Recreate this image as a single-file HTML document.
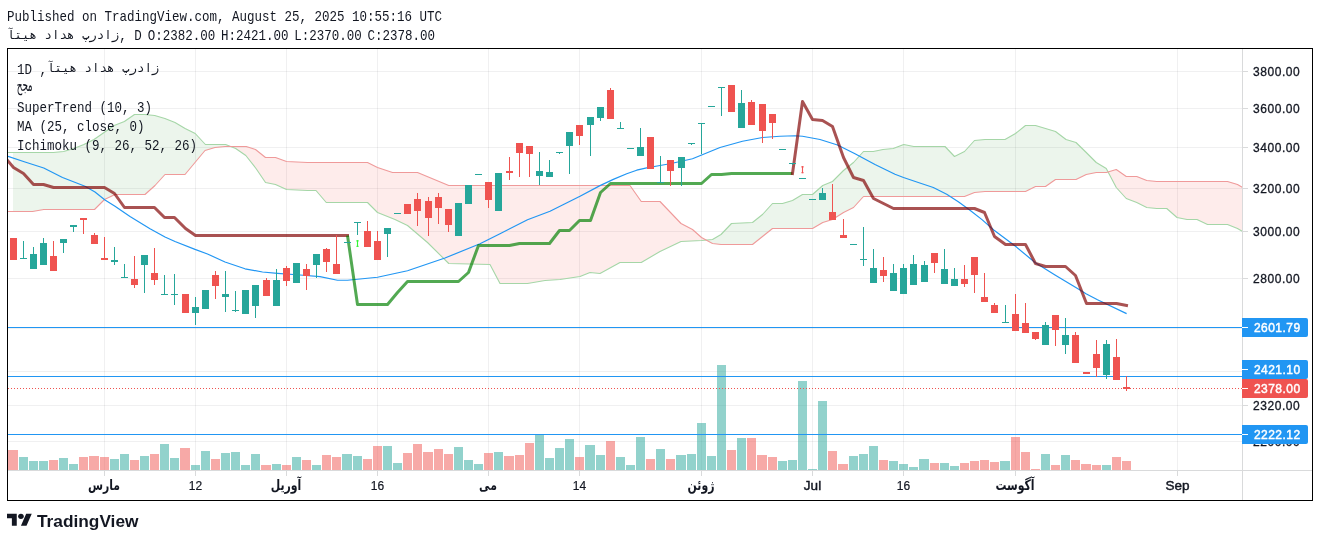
<!DOCTYPE html>
<html lang="fa"><head><meta charset="utf-8"><title>TradingView Chart</title>
<style>
html,body{margin:0;padding:0;background:#fff;}
body{width:1320px;height:541px;position:relative;overflow:hidden;color:#131722;
 font-family:"Liberation Sans","DejaVu Sans","Noto Sans CJK SC",sans-serif;}
.chart{position:absolute;left:0;top:0;}
.mono{position:absolute;white-space:pre;font-family:"Liberation Mono","DejaVu Sans Mono",monospace;
 font-size:12.5px;line-height:15px;color:#131722;}
.mono .l{display:inline-block;transform:scaleY(1.2);transform-origin:0 11.5px;}
.mono .r{display:inline-block;font-family:"DejaVu Sans Mono","Liberation Mono",monospace;font-size:12.45px;position:relative;top:-1px;}
.ax{position:absolute;font-size:12px;line-height:14px;white-space:pre;color:#131722;letter-spacing:0.55px;-webkit-text-stroke:0.3px currentColor;}
.ax.wl{-webkit-text-stroke:0.45px currentColor;letter-spacing:0.45px;}
.tl{position:absolute;font-size:12px;line-height:14px;white-space:pre;color:#131722;transform:translateX(-50%);-webkit-text-stroke:0.2px currentColor;}
.tl.m{font-size:13.5px;-webkit-text-stroke:0.45px currentColor;letter-spacing:0;}
.tl.a{font-family:"DejaVu Sans","Liberation Sans",sans-serif;font-weight:bold;font-size:13px;transform-origin:50% 85%;transform:translateX(-50%) scale(0.84,1.12);-webkit-text-stroke:0;}
.ws{word-spacing:-1.7px;}
.wl{color:#fff;}
.lb{position:absolute;left:1242px;width:66px;border-radius:0 2px 2px 0;}
.lb i{position:absolute;left:0;width:6px;height:1px;background:#fff;}
.logo{position:absolute;left:7.1px;top:511.33px;}
.brand{position:absolute;left:37px;top:510.6px;font-weight:bold;font-size:17.3px;line-height:20px;color:#131722;white-space:pre;transform-origin:0 50%;}
</style></head><body>
<svg class="chart" width="1320" height="541" viewBox="0 0 1320 541">
<defs><clipPath id="cp"><rect x="8" y="49" width="1234" height="421"/></clipPath><clipPath id="cpg"><rect x="8" y="0" width="1234" height="541"/></clipPath></defs>
<g shape-rendering="crispEdges" fill="#1e222d" fill-opacity="0.065">
<rect x="104" y="49" width="1" height="421"/>
<rect x="195" y="49" width="1" height="421"/>
<rect x="286" y="49" width="1" height="421"/>
<rect x="377" y="49" width="1" height="421"/>
<rect x="488" y="49" width="1" height="421"/>
<rect x="579" y="49" width="1" height="421"/>
<rect x="701" y="49" width="1" height="421"/>
<rect x="812" y="49" width="1" height="421"/>
<rect x="903" y="49" width="1" height="421"/>
<rect x="1015" y="49" width="1" height="421"/>
<rect x="1177" y="49" width="1" height="421"/>
<rect x="8" y="71" width="1234" height="1"/>
<rect x="8" y="108" width="1234" height="1"/>
<rect x="8" y="147" width="1234" height="1"/>
<rect x="8" y="188" width="1234" height="1"/>
<rect x="8" y="231" width="1234" height="1"/>
<rect x="8" y="278" width="1234" height="1"/>
<rect x="8" y="328" width="1234" height="1"/>
<rect x="8" y="371" width="1234" height="1"/>
<rect x="8" y="405" width="1234" height="1"/>
<rect x="8" y="441" width="1234" height="1"/>
</g>
<g clip-path="url(#cp)">
<polygon points="13.03,152.5 32.5,152.5 43.75,152.5 53.5,152.5 63.6,151.5 73.8,148.5 83.9,144.5 94,139.5 94.5,139.15 104.1,132.5 104.5,132.22 114.2,125.5 115,125.19 124.4,121.5 134.5,114.5 144.6,114.5 145,114.54 154.7,115.5 155,115.59 164.9,118.5 165,118.54 175,122.5 185,128.44 185.1,128.5 195,133.4 195.2,133.5 205,144.07 205.4,144.5 215,144.5 225,144.5 225.6,144.5 230.65,146.5 230.65,146.5 225.6,146.5 225,146.5 215,147.5 205.4,150.38 205,150.5 195.2,162.26 195,162.5 185.1,174.38 185,174.5 175,174.5 165,174.5 164.9,174.61 155,185.5 154.7,185.77 145,194.5 144.6,194.5 134.5,194.5 124.4,194.5 115,194.5 114.2,194.88 104.5,199.5 104.1,199.9 94.5,209.5 94,209.5 83.9,209.5 73.8,209.5 63.6,209.5 53.5,209.5 43.75,209.5 32.5,211.5 13.03,211.5" fill="#43a047" fill-opacity="0.1"/>
<polygon points="230.65,146.5 235.7,148.5 245.8,155.5 246.25,156.07 255.5,167.86 256,168.5 265.5,182.5 275.5,184.5 286.5,189.5 307.5,190.5 316,190.5 326.25,202.5 367.5,202.5 377.5,212.5 392.5,218.5 395,219.5 407.5,225.5 417.5,234 427.5,242.5 448.75,263.5 490,264.5 500,283.5 527.5,283.5 545,280.5 560,279.5 580,276.5 590,272.5 600,273.5 620,262.5 630,262.5 641.25,262.5 660,251.5 681,241.5 692.5,240.94 701.5,240.5 706.21,240.07 706.21,240.07 701.5,237.5 692.5,229.5 681,223.5 660,201.5 641.25,201.5 630,185.5 620,185.5 600,185.5 590,185.5 580,185.5 560,185.5 545,185.5 527.5,185.5 500,185.5 490,185.5 448.75,185.5 427.5,176.66 417.5,172.5 407.5,172.5 395,172.5 392.5,172.5 377.5,167.5 367.5,162.5 326.25,162.5 316,162.5 307.5,162.5 286.5,161.5 275.5,157.5 265.5,157.5 256,149.9 255.5,149.5 246.25,146.5 245.8,146.5 235.7,146.5 230.65,146.5" fill="#f44336" fill-opacity="0.1"/>
<polygon points="706.21,240.07 712.5,239.5 721,234.5 731.5,223.5 752.5,222.5 762.5,214.5 772.5,203.5 782.5,203.5 792.5,200.5 802.5,194.5 812.5,194.5 822.75,185.5 832.5,181.5 843.5,170.5 853.5,162.5 863.5,151.5 873.25,151.5 883,149.5 893.25,148.5 903.75,144.5 913.75,146.5 945,146.5 954.5,156.5 964.5,151.5 974.5,140.5 985,139.5 1005,139.5 1015.5,133.5 1025.5,125.5 1035.5,125.5 1045.5,128.5 1055.5,131.5 1066,139.5 1076,142.5 1086.25,152.5 1096.25,162.5 1106.25,168.5 1108.07,171.95 1108.07,171.95 1106.25,172.5 1096.25,172.5 1086.25,174.5 1076,179.5 1066,179.5 1055.5,179.5 1045.5,186.5 1035.5,186.5 1025.5,191.5 1015.5,191.5 1005,191.5 985,191.5 974.5,192.5 964.5,196.5 954.5,196.5 945,196.5 913.75,196.5 903.75,196.5 893.25,196.5 883,196.5 873.25,196.5 863.5,196.5 853.5,207.5 843.5,212.5 832.5,219.5 822.75,222.5 812.5,228.5 802.5,228.5 792.5,228.5 782.5,228.5 772.5,228.5 762.5,236.5 752.5,244.5 731.5,244.5 721,244.5 712.5,243.5 706.21,240.07" fill="#43a047" fill-opacity="0.1"/>
<polygon points="1108.07,171.95 1116.25,187.5 1126.25,198.5 1136.75,202.5 1146.75,207.5 1156.75,208.5 1166.75,208.5 1177,217.5 1187,219.5 1197,219.5 1207.5,224.5 1227.5,224.5 1237.5,228.5 1242.5,231.5 1242.5,187.5 1237.5,184.5 1227.5,181.5 1207.5,181.5 1197,181.5 1187,181.5 1177,181.5 1166.75,181.5 1156.75,181.5 1146.75,180.5 1136.75,176.5 1126.25,176.5 1116.25,169.5 1108.07,171.95" fill="#f44336" fill-opacity="0.1"/>
<polyline points="3,152.5 53.5,152.5 63.6,151.5 73.8,148.5 83.9,144.5 94,139.5 104.1,132.5 114.2,125.5 124.4,121.5 134.5,114.5 144.6,114.5 154.7,115.5 164.9,118.5 175,122.5 185.1,128.5 195.2,133.5 205.4,144.5 225.6,144.5 235.7,148.5 245.8,155.5 256,168.5 265.5,182.5 275.5,184.5 286.5,189.5 307.5,190.5 316,190.5 326.25,202.5 367.5,202.5 377.5,212.5 395,219.5 407.5,225.5 427.5,242.5 448.75,263.5 490,264.5 500,283.5 527.5,283.5 545,280.5 560,279.5 580,276.5 590,272.5 600,273.5 620,262.5 641.25,262.5 660,251.5 681,241.5 701.5,240.5 712.5,239.5 721,234.5 731.5,223.5 752.5,222.5 762.5,214.5 772.5,203.5 782.5,203.5 792.5,200.5 802.5,194.5 812.5,194.5 822.75,185.5 832.5,181.5 843.5,170.5 853.5,162.5 863.5,151.5 873.25,151.5 883,149.5 893.25,148.5 903.75,144.5 913.75,146.5 945,146.5 954.5,156.5 964.5,151.5 974.5,140.5 985,139.5 1005,139.5 1015.5,133.5 1025.5,125.5 1035.5,125.5 1045.5,128.5 1055.5,131.5 1066,139.5 1076,142.5 1086.25,152.5 1096.25,162.5 1106.25,168.5 1116.25,187.5 1126.25,198.5 1136.75,202.5 1146.75,207.5 1156.75,208.5 1166.75,208.5 1177,217.5 1187,219.5 1197,219.5 1207.5,224.5 1227.5,224.5 1237.5,228.5 1242.5,231.5" fill="none" stroke="#a5d6a7" stroke-width="1.1" stroke-linejoin="round" />
<polyline points="3,211.5 8,211.5 32.5,211.5 43.75,209.5 94.5,209.5 104.5,199.5 115,194.5 145,194.5 155,185.5 165,174.5 175,174.5 185,174.5 195,162.5 205,150.5 215,147.5 225,146.5 246.25,146.5 255.5,149.5 265.5,157.5 275.5,157.5 286.5,161.5 307.5,162.5 367.5,162.5 377.5,167.5 392.5,172.5 417.5,172.5 448.75,185.5 630,185.5 641.25,201.5 660,201.5 681,223.5 692.5,229.5 701.5,237.5 712.5,243.5 721,244.5 752.5,244.5 762.5,236.5 772.5,228.5 812.5,228.5 822.75,222.5 832.5,219.5 843.5,212.5 853.5,207.5 863.5,196.5 964.5,196.5 974.5,192.5 985,191.5 1025.5,191.5 1035.5,186.5 1045.5,186.5 1055.5,179.5 1076,179.5 1086.25,174.5 1096.25,172.5 1106.25,172.5 1116.25,169.5 1126.25,176.5 1136.75,176.5 1146.75,180.5 1156.75,181.5 1227.5,181.5 1237.5,184.5 1242.5,187.5" fill="none" stroke="#ef9a9a" stroke-width="1.1" stroke-linejoin="round" />
</g>
<g shape-rendering="crispEdges">
<rect x="8" y="450" width="10" height="20" fill="#ef5350" fill-opacity="0.5"/>
<rect x="19" y="457" width="9" height="13" fill="#26a69a" fill-opacity="0.5"/>
<rect x="29" y="461" width="9" height="9" fill="#26a69a" fill-opacity="0.5"/>
<rect x="39" y="461" width="9" height="9" fill="#26a69a" fill-opacity="0.5"/>
<rect x="49" y="460" width="9" height="10" fill="#ef5350" fill-opacity="0.5"/>
<rect x="59" y="458" width="9" height="12" fill="#26a69a" fill-opacity="0.5"/>
<rect x="69" y="464" width="9" height="6" fill="#26a69a" fill-opacity="0.5"/>
<rect x="79" y="457" width="9" height="13" fill="#ef5350" fill-opacity="0.5"/>
<rect x="89" y="456" width="10" height="14" fill="#ef5350" fill-opacity="0.5"/>
<rect x="100" y="457" width="9" height="13" fill="#ef5350" fill-opacity="0.5"/>
<rect x="110" y="459" width="9" height="11" fill="#26a69a" fill-opacity="0.5"/>
<rect x="120" y="454" width="9" height="16" fill="#26a69a" fill-opacity="0.5"/>
<rect x="130" y="460" width="9" height="10" fill="#ef5350" fill-opacity="0.5"/>
<rect x="140" y="456" width="9" height="14" fill="#26a69a" fill-opacity="0.5"/>
<rect x="150" y="454" width="9" height="16" fill="#ef5350" fill-opacity="0.5"/>
<rect x="160" y="444" width="9" height="26" fill="#26a69a" fill-opacity="0.5"/>
<rect x="170" y="458" width="9" height="12" fill="#26a69a" fill-opacity="0.5"/>
<rect x="180" y="448" width="10" height="22" fill="#ef5350" fill-opacity="0.5"/>
<rect x="191" y="465" width="9" height="5" fill="#26a69a" fill-opacity="0.5"/>
<rect x="201" y="451" width="9" height="19" fill="#26a69a" fill-opacity="0.5"/>
<rect x="211" y="459" width="9" height="11" fill="#ef5350" fill-opacity="0.5"/>
<rect x="221" y="453" width="9" height="17" fill="#26a69a" fill-opacity="0.5"/>
<rect x="231" y="452" width="9" height="18" fill="#26a69a" fill-opacity="0.5"/>
<rect x="241" y="465" width="9" height="5" fill="#26a69a" fill-opacity="0.5"/>
<rect x="251" y="454" width="9" height="16" fill="#26a69a" fill-opacity="0.5"/>
<rect x="261" y="465" width="10" height="5" fill="#ef5350" fill-opacity="0.5"/>
<rect x="272" y="464" width="9" height="6" fill="#26a69a" fill-opacity="0.5"/>
<rect x="282" y="465" width="9" height="5" fill="#ef5350" fill-opacity="0.5"/>
<rect x="292" y="457" width="9" height="13" fill="#26a69a" fill-opacity="0.5"/>
<rect x="302" y="460" width="9" height="10" fill="#ef5350" fill-opacity="0.5"/>
<rect x="312" y="465" width="9" height="5" fill="#26a69a" fill-opacity="0.5"/>
<rect x="322" y="455" width="9" height="15" fill="#ef5350" fill-opacity="0.5"/>
<rect x="332" y="457" width="9" height="13" fill="#ef5350" fill-opacity="0.5"/>
<rect x="342" y="454" width="10" height="16" fill="#26a69a" fill-opacity="0.5"/>
<rect x="353" y="456" width="9" height="14" fill="#26a69a" fill-opacity="0.5"/>
<rect x="363" y="459" width="9" height="11" fill="#ef5350" fill-opacity="0.5"/>
<rect x="373" y="446" width="9" height="24" fill="#ef5350" fill-opacity="0.5"/>
<rect x="383" y="446" width="9" height="24" fill="#26a69a" fill-opacity="0.5"/>
<rect x="393" y="463" width="9" height="7" fill="#26a69a" fill-opacity="0.5"/>
<rect x="403" y="453" width="9" height="17" fill="#ef5350" fill-opacity="0.5"/>
<rect x="413" y="444" width="9" height="26" fill="#ef5350" fill-opacity="0.5"/>
<rect x="423" y="452" width="10" height="18" fill="#ef5350" fill-opacity="0.5"/>
<rect x="434" y="449" width="9" height="21" fill="#ef5350" fill-opacity="0.5"/>
<rect x="444" y="454" width="9" height="16" fill="#ef5350" fill-opacity="0.5"/>
<rect x="454" y="447" width="9" height="23" fill="#26a69a" fill-opacity="0.5"/>
<rect x="464" y="460" width="9" height="10" fill="#26a69a" fill-opacity="0.5"/>
<rect x="474" y="464" width="9" height="6" fill="#26a69a" fill-opacity="0.5"/>
<rect x="484" y="453" width="9" height="17" fill="#ef5350" fill-opacity="0.5"/>
<rect x="494" y="452" width="9" height="18" fill="#26a69a" fill-opacity="0.5"/>
<rect x="504" y="456" width="10" height="14" fill="#ef5350" fill-opacity="0.5"/>
<rect x="515" y="455" width="9" height="15" fill="#ef5350" fill-opacity="0.5"/>
<rect x="525" y="443" width="9" height="27" fill="#ef5350" fill-opacity="0.5"/>
<rect x="535" y="434" width="9" height="36" fill="#26a69a" fill-opacity="0.5"/>
<rect x="545" y="458" width="9" height="12" fill="#26a69a" fill-opacity="0.5"/>
<rect x="555" y="448" width="9" height="22" fill="#26a69a" fill-opacity="0.5"/>
<rect x="565" y="439" width="9" height="31" fill="#26a69a" fill-opacity="0.5"/>
<rect x="575" y="457" width="9" height="13" fill="#ef5350" fill-opacity="0.5"/>
<rect x="585" y="445" width="10" height="25" fill="#26a69a" fill-opacity="0.5"/>
<rect x="596" y="455" width="9" height="15" fill="#26a69a" fill-opacity="0.5"/>
<rect x="606" y="441" width="9" height="29" fill="#ef5350" fill-opacity="0.5"/>
<rect x="616" y="457" width="9" height="13" fill="#26a69a" fill-opacity="0.5"/>
<rect x="626" y="465" width="9" height="5" fill="#26a69a" fill-opacity="0.5"/>
<rect x="636" y="437" width="9" height="33" fill="#26a69a" fill-opacity="0.5"/>
<rect x="646" y="459" width="9" height="11" fill="#ef5350" fill-opacity="0.5"/>
<rect x="656" y="449" width="9" height="21" fill="#26a69a" fill-opacity="0.5"/>
<rect x="666" y="459" width="9" height="11" fill="#ef5350" fill-opacity="0.5"/>
<rect x="676" y="455" width="10" height="15" fill="#26a69a" fill-opacity="0.5"/>
<rect x="687" y="454" width="9" height="16" fill="#26a69a" fill-opacity="0.5"/>
<rect x="697" y="423" width="9" height="47" fill="#26a69a" fill-opacity="0.5"/>
<rect x="707" y="456" width="9" height="14" fill="#26a69a" fill-opacity="0.5"/>
<rect x="717" y="365" width="9" height="105" fill="#26a69a" fill-opacity="0.5"/>
<rect x="727" y="450" width="9" height="20" fill="#ef5350" fill-opacity="0.5"/>
<rect x="737" y="438" width="9" height="32" fill="#26a69a" fill-opacity="0.5"/>
<rect x="747" y="438" width="9" height="32" fill="#ef5350" fill-opacity="0.5"/>
<rect x="757" y="455" width="10" height="15" fill="#ef5350" fill-opacity="0.5"/>
<rect x="768" y="457" width="9" height="13" fill="#ef5350" fill-opacity="0.5"/>
<rect x="778" y="461" width="9" height="9" fill="#26a69a" fill-opacity="0.5"/>
<rect x="788" y="460" width="9" height="10" fill="#26a69a" fill-opacity="0.5"/>
<rect x="798" y="381" width="9" height="89" fill="#26a69a" fill-opacity="0.5"/>
<rect x="808" y="469" width="9" height="1" fill="#26a69a" fill-opacity="0.5"/>
<rect x="818" y="401" width="9" height="69" fill="#26a69a" fill-opacity="0.5"/>
<rect x="828" y="451" width="9" height="19" fill="#ef5350" fill-opacity="0.5"/>
<rect x="838" y="464" width="10" height="6" fill="#ef5350" fill-opacity="0.5"/>
<rect x="849" y="456" width="9" height="14" fill="#26a69a" fill-opacity="0.5"/>
<rect x="859" y="454" width="9" height="16" fill="#26a69a" fill-opacity="0.5"/>
<rect x="869" y="446" width="9" height="24" fill="#26a69a" fill-opacity="0.5"/>
<rect x="879" y="460" width="9" height="10" fill="#ef5350" fill-opacity="0.5"/>
<rect x="889" y="461" width="9" height="9" fill="#26a69a" fill-opacity="0.5"/>
<rect x="899" y="464" width="9" height="6" fill="#26a69a" fill-opacity="0.5"/>
<rect x="909" y="467" width="9" height="3" fill="#26a69a" fill-opacity="0.5"/>
<rect x="919" y="459" width="10" height="11" fill="#26a69a" fill-opacity="0.5"/>
<rect x="930" y="463" width="9" height="7" fill="#ef5350" fill-opacity="0.5"/>
<rect x="940" y="463" width="9" height="7" fill="#26a69a" fill-opacity="0.5"/>
<rect x="950" y="466" width="9" height="4" fill="#26a69a" fill-opacity="0.5"/>
<rect x="960" y="463" width="9" height="7" fill="#ef5350" fill-opacity="0.5"/>
<rect x="970" y="461" width="9" height="9" fill="#ef5350" fill-opacity="0.5"/>
<rect x="980" y="460" width="9" height="10" fill="#ef5350" fill-opacity="0.5"/>
<rect x="990" y="462" width="9" height="8" fill="#ef5350" fill-opacity="0.5"/>
<rect x="1000" y="461" width="10" height="9" fill="#26a69a" fill-opacity="0.5"/>
<rect x="1011" y="437" width="9" height="33" fill="#ef5350" fill-opacity="0.5"/>
<rect x="1021" y="452" width="9" height="18" fill="#ef5350" fill-opacity="0.5"/>
<rect x="1031" y="469" width="9" height="1" fill="#ef5350" fill-opacity="0.5"/>
<rect x="1041" y="454" width="9" height="16" fill="#26a69a" fill-opacity="0.5"/>
<rect x="1051" y="465" width="9" height="5" fill="#ef5350" fill-opacity="0.5"/>
<rect x="1061" y="455" width="9" height="15" fill="#26a69a" fill-opacity="0.5"/>
<rect x="1071" y="460" width="9" height="10" fill="#ef5350" fill-opacity="0.5"/>
<rect x="1081" y="464" width="10" height="6" fill="#ef5350" fill-opacity="0.5"/>
<rect x="1092" y="465" width="9" height="5" fill="#ef5350" fill-opacity="0.5"/>
<rect x="1102" y="465" width="9" height="5" fill="#26a69a" fill-opacity="0.5"/>
<rect x="1112" y="457" width="9" height="13" fill="#ef5350" fill-opacity="0.5"/>
<rect x="1122" y="461" width="9" height="9" fill="#ef5350" fill-opacity="0.5"/>
</g>
<g shape-rendering="crispEdges">
<rect x="8" y="327" width="1234" height="1" fill="#2196f3"/>
<rect x="8" y="376" width="1234" height="1" fill="#2196f3"/>
<rect x="8" y="434" width="1234" height="1" fill="#2196f3"/>
</g>
<line x1="8" y1="388.5" x2="1242" y2="388.5" stroke="#ef5350" stroke-width="1" stroke-dasharray="1 2" shape-rendering="crispEdges"/>
<g clip-path="url(#cp)">
<polyline points="8,156.25 25,162 43.75,168 62.5,177.5 85,186.25 95,192 105,200 115,206.25 130,216.5 150,228.7 165,237 175,241.5 195,249.4 207.5,254 225,262 245,268.8 262.5,272 277.5,273.4 300,275 320,276.7 337.5,280.25 347.5,280.25 377.5,277.25 407.5,270.75 445,258 480,243.75 500,233.75 527.5,219.75 550,211.25 562.5,205 580,196.25 600,185.6 613.3,179.4 626.7,173.7 636.7,170.2 646.7,167.8 660,165.5 670,163.75 692.5,158.75 720,147.5 742.5,141.25 762.5,137.5 780,136.25 795,135.75 802.5,136.25 820,139.5 837.5,145 855,153.75 875,164.5 895,174.2 903.5,177.5 918.3,182.5 933.3,187.5 946.7,194.2 958.3,201.7 970,210.3 982,219.6 993.75,230 1015.5,246.25 1035,262.5 1055,275 1080,290 1086,293.8 1097.5,299.7 1126.6,313.6" fill="none" stroke="#2196f3" stroke-width="1.2" stroke-linejoin="round" />
<polyline points="2.5,154.5 13.5,167.5 23.5,173.5 33.5,184.5 43.5,184.5 53.5,187.5 104.5,187.5 114.5,193.5 124.5,207.5 154.5,207.5 164.5,217.5 174.5,217.5 185.5,228.5 195.5,235.5 336.5,235.5 347.5,235.5" fill="none" stroke="#800000" stroke-width="3" stroke-linejoin="round" stroke-opacity="0.68" stroke-linecap="square"/>
<polyline points="347.5,235.5 357.5,304.5 377.5,304.5 387.5,304.5 397.5,292.5 407.5,281.5 448.5,281.5 458.5,281.5 468.5,272.5 478.5,245.5 498.5,245.5 509.5,245.5 519.5,243.5 539.5,243.5 549.5,243.5 559.5,230.5 569.5,230.5 579.5,220.5 590.5,220.5 600.5,192.5 610.5,183.5 691.5,183.5 701.5,183.5 711.5,174.5 721.5,174.5 731.5,173.5 741.5,173.5 782.5,173.5 792.5,173.5" fill="none" stroke="#008000" stroke-width="3" stroke-linejoin="round" stroke-opacity="0.68"/>
<polyline points="792.5,173.5 802.5,101.5 812.5,119.5 822.5,120.5 832.5,126.5 843.5,157.5 853.5,177.5 863.5,180.5 873.5,198.5 883.5,203.5 893.5,208.5 964.5,208.5 974.5,208.5 984.5,212.5 994.5,236.5 1005.5,244.5 1015.5,244.5 1025.5,244.5 1035.5,263.5 1045.5,266.5 1055.5,266.5 1065.5,266.5 1075.5,275.5 1086.5,303.5 1106.5,303.5 1116.5,303.5 1126.5,305.5" fill="none" stroke="#800000" stroke-width="3" stroke-linejoin="round" stroke-opacity="0.68" stroke-linecap="square"/>
</g>
<g shape-rendering="crispEdges">
<rect x="13" y="238" width="1" height="22" fill="#ef5350"/>
<rect x="10" y="238" width="7" height="22" fill="#ef5350"/>
<rect x="23" y="241" width="1" height="18" fill="#26a69a"/>
<rect x="20" y="258" width="7" height="1" fill="#26a69a"/>
<rect x="33" y="247" width="1" height="22" fill="#26a69a"/>
<rect x="30" y="254" width="7" height="15" fill="#26a69a"/>
<rect x="43" y="238" width="1" height="27" fill="#26a69a"/>
<rect x="40" y="243" width="7" height="22" fill="#26a69a"/>
<rect x="53" y="241" width="1" height="30" fill="#ef5350"/>
<rect x="50" y="256" width="7" height="15" fill="#ef5350"/>
<rect x="63" y="239" width="1" height="14" fill="#26a69a"/>
<rect x="60" y="239" width="7" height="4" fill="#26a69a"/>
<rect x="73" y="225" width="1" height="7" fill="#26a69a"/>
<rect x="70" y="225" width="7" height="2" fill="#26a69a"/>
<rect x="83" y="218" width="1" height="16" fill="#ef5350"/>
<rect x="80" y="218" width="7" height="2" fill="#ef5350"/>
<rect x="94" y="233" width="1" height="11" fill="#ef5350"/>
<rect x="91" y="235" width="7" height="9" fill="#ef5350"/>
<rect x="104" y="237" width="1" height="23" fill="#ef5350"/>
<rect x="101" y="258" width="7" height="2" fill="#ef5350"/>
<rect x="114" y="247" width="1" height="18" fill="#26a69a"/>
<rect x="111" y="260" width="7" height="2" fill="#26a69a"/>
<rect x="124" y="264" width="1" height="14" fill="#26a69a"/>
<rect x="121" y="277" width="7" height="1" fill="#26a69a"/>
<rect x="134" y="256" width="1" height="32" fill="#ef5350"/>
<rect x="131" y="279" width="7" height="6" fill="#ef5350"/>
<rect x="144" y="255" width="1" height="38" fill="#26a69a"/>
<rect x="141" y="255" width="7" height="10" fill="#26a69a"/>
<rect x="154" y="248" width="1" height="37" fill="#ef5350"/>
<rect x="151" y="273" width="7" height="7" fill="#ef5350"/>
<rect x="164" y="275" width="1" height="20" fill="#26a69a"/>
<rect x="161" y="294" width="7" height="1" fill="#26a69a"/>
<rect x="174" y="274" width="1" height="31" fill="#26a69a"/>
<rect x="171" y="294" width="7" height="1" fill="#26a69a"/>
<rect x="185" y="294" width="1" height="19" fill="#ef5350"/>
<rect x="182" y="294" width="7" height="19" fill="#ef5350"/>
<rect x="195" y="297" width="1" height="28" fill="#26a69a"/>
<rect x="192" y="307" width="7" height="6" fill="#26a69a"/>
<rect x="205" y="290" width="1" height="19" fill="#26a69a"/>
<rect x="202" y="290" width="7" height="19" fill="#26a69a"/>
<rect x="215" y="271" width="1" height="28" fill="#ef5350"/>
<rect x="212" y="275" width="7" height="11" fill="#ef5350"/>
<rect x="225" y="271" width="1" height="41" fill="#26a69a"/>
<rect x="222" y="294" width="7" height="3" fill="#26a69a"/>
<rect x="235" y="291" width="1" height="21" fill="#26a69a"/>
<rect x="232" y="310" width="7" height="1" fill="#26a69a"/>
<rect x="245" y="290" width="1" height="24" fill="#26a69a"/>
<rect x="242" y="290" width="7" height="24" fill="#26a69a"/>
<rect x="255" y="285" width="1" height="33" fill="#26a69a"/>
<rect x="252" y="285" width="7" height="21" fill="#26a69a"/>
<rect x="266" y="278" width="1" height="18" fill="#ef5350"/>
<rect x="263" y="280" width="7" height="16" fill="#ef5350"/>
<rect x="276" y="269" width="1" height="37" fill="#26a69a"/>
<rect x="273" y="280" width="7" height="26" fill="#26a69a"/>
<rect x="286" y="266" width="1" height="20" fill="#ef5350"/>
<rect x="283" y="268" width="7" height="13" fill="#ef5350"/>
<rect x="296" y="263" width="1" height="20" fill="#26a69a"/>
<rect x="293" y="263" width="7" height="20" fill="#26a69a"/>
<rect x="306" y="264" width="1" height="26" fill="#ef5350"/>
<rect x="303" y="269" width="7" height="7" fill="#ef5350"/>
<rect x="316" y="254" width="1" height="24" fill="#26a69a"/>
<rect x="313" y="254" width="7" height="11" fill="#26a69a"/>
<rect x="326" y="248" width="1" height="24" fill="#ef5350"/>
<rect x="323" y="249" width="7" height="13" fill="#ef5350"/>
<rect x="336" y="235" width="1" height="39" fill="#ef5350"/>
<rect x="333" y="264" width="7" height="10" fill="#ef5350"/>
<rect x="347" y="242" width="1" height="1" fill="#26a69a"/>
<rect x="344" y="242" width="7" height="1" fill="#26a69a"/>
<rect x="357" y="222" width="1" height="13" fill="#26a69a"/>
<rect x="354" y="222" width="7" height="1" fill="#26a69a"/>
<rect x="367" y="221" width="1" height="26" fill="#ef5350"/>
<rect x="364" y="231" width="7" height="16" fill="#ef5350"/>
<rect x="377" y="231" width="1" height="29" fill="#ef5350"/>
<rect x="374" y="241" width="7" height="19" fill="#ef5350"/>
<rect x="387" y="228" width="1" height="29" fill="#26a69a"/>
<rect x="384" y="228" width="7" height="6" fill="#26a69a"/>
<rect x="397" y="213" width="1" height="1" fill="#26a69a"/>
<rect x="394" y="213" width="7" height="1" fill="#26a69a"/>
<rect x="407" y="204" width="1" height="10" fill="#ef5350"/>
<rect x="404" y="204" width="7" height="10" fill="#ef5350"/>
<rect x="417" y="193" width="1" height="33" fill="#ef5350"/>
<rect x="414" y="199" width="7" height="12" fill="#ef5350"/>
<rect x="428" y="197" width="1" height="39" fill="#ef5350"/>
<rect x="425" y="201" width="7" height="17" fill="#ef5350"/>
<rect x="438" y="193" width="1" height="31" fill="#ef5350"/>
<rect x="435" y="197" width="7" height="11" fill="#ef5350"/>
<rect x="448" y="209" width="1" height="23" fill="#ef5350"/>
<rect x="445" y="209" width="7" height="16" fill="#ef5350"/>
<rect x="458" y="203" width="1" height="33" fill="#26a69a"/>
<rect x="455" y="203" width="7" height="33" fill="#26a69a"/>
<rect x="468" y="185" width="1" height="19" fill="#26a69a"/>
<rect x="465" y="185" width="7" height="19" fill="#26a69a"/>
<rect x="478" y="174" width="1" height="1" fill="#26a69a"/>
<rect x="475" y="174" width="7" height="1" fill="#26a69a"/>
<rect x="488" y="182" width="1" height="26" fill="#ef5350"/>
<rect x="485" y="182" width="7" height="18" fill="#ef5350"/>
<rect x="498" y="173" width="1" height="38" fill="#26a69a"/>
<rect x="495" y="173" width="7" height="38" fill="#26a69a"/>
<rect x="509" y="157" width="1" height="23" fill="#ef5350"/>
<rect x="506" y="171" width="7" height="2" fill="#ef5350"/>
<rect x="519" y="143" width="1" height="34" fill="#ef5350"/>
<rect x="516" y="143" width="7" height="10" fill="#ef5350"/>
<rect x="529" y="146" width="1" height="31" fill="#ef5350"/>
<rect x="526" y="146" width="7" height="8" fill="#ef5350"/>
<rect x="539" y="152" width="1" height="33" fill="#26a69a"/>
<rect x="536" y="171" width="7" height="5" fill="#26a69a"/>
<rect x="549" y="160" width="1" height="17" fill="#26a69a"/>
<rect x="546" y="172" width="7" height="5" fill="#26a69a"/>
<rect x="559" y="152" width="1" height="2" fill="#26a69a"/>
<rect x="556" y="152" width="7" height="1" fill="#26a69a"/>
<rect x="569" y="132" width="1" height="42" fill="#26a69a"/>
<rect x="566" y="132" width="7" height="14" fill="#26a69a"/>
<rect x="579" y="125" width="1" height="20" fill="#ef5350"/>
<rect x="576" y="125" width="7" height="11" fill="#ef5350"/>
<rect x="590" y="117" width="1" height="39" fill="#26a69a"/>
<rect x="587" y="117" width="7" height="8" fill="#26a69a"/>
<rect x="600" y="107" width="1" height="14" fill="#26a69a"/>
<rect x="597" y="107" width="7" height="11" fill="#26a69a"/>
<rect x="610" y="88" width="1" height="31" fill="#ef5350"/>
<rect x="607" y="90" width="7" height="29" fill="#ef5350"/>
<rect x="620" y="122" width="1" height="7" fill="#26a69a"/>
<rect x="617" y="128" width="7" height="1" fill="#26a69a"/>
<rect x="630" y="148" width="1" height="1" fill="#26a69a"/>
<rect x="627" y="148" width="7" height="1" fill="#26a69a"/>
<rect x="640" y="128" width="1" height="28" fill="#26a69a"/>
<rect x="637" y="147" width="7" height="9" fill="#26a69a"/>
<rect x="650" y="137" width="1" height="32" fill="#ef5350"/>
<rect x="647" y="137" width="7" height="32" fill="#ef5350"/>
<rect x="660" y="156" width="1" height="27" fill="#26a69a"/>
<rect x="657" y="182" width="7" height="1" fill="#26a69a"/>
<rect x="670" y="160" width="1" height="26" fill="#ef5350"/>
<rect x="667" y="160" width="7" height="11" fill="#ef5350"/>
<rect x="681" y="157" width="1" height="29" fill="#26a69a"/>
<rect x="678" y="157" width="7" height="11" fill="#26a69a"/>
<rect x="691" y="143" width="1" height="2" fill="#26a69a"/>
<rect x="688" y="143" width="7" height="1" fill="#26a69a"/>
<rect x="701" y="123" width="1" height="31" fill="#26a69a"/>
<rect x="698" y="123" width="7" height="1" fill="#26a69a"/>
<rect x="711" y="106" width="1" height="1" fill="#26a69a"/>
<rect x="708" y="106" width="7" height="1" fill="#26a69a"/>
<rect x="721" y="87" width="1" height="29" fill="#26a69a"/>
<rect x="718" y="87" width="7" height="1" fill="#26a69a"/>
<rect x="731" y="85" width="1" height="27" fill="#ef5350"/>
<rect x="728" y="85" width="7" height="27" fill="#ef5350"/>
<rect x="741" y="90" width="1" height="38" fill="#26a69a"/>
<rect x="738" y="103" width="7" height="25" fill="#26a69a"/>
<rect x="751" y="100" width="1" height="25" fill="#ef5350"/>
<rect x="748" y="102" width="7" height="23" fill="#ef5350"/>
<rect x="762" y="104" width="1" height="39" fill="#ef5350"/>
<rect x="759" y="104" width="7" height="27" fill="#ef5350"/>
<rect x="772" y="114" width="1" height="25" fill="#ef5350"/>
<rect x="769" y="114" width="7" height="9" fill="#ef5350"/>
<rect x="782" y="149" width="1" height="1" fill="#26a69a"/>
<rect x="779" y="149" width="7" height="1" fill="#26a69a"/>
<rect x="792" y="163" width="1" height="2" fill="#26a69a"/>
<rect x="789" y="163" width="7" height="1" fill="#26a69a"/>
<rect x="802" y="178" width="1" height="1" fill="#26a69a"/>
<rect x="799" y="178" width="7" height="1" fill="#26a69a"/>
<rect x="812" y="199" width="1" height="1" fill="#26a69a"/>
<rect x="809" y="199" width="7" height="1" fill="#26a69a"/>
<rect x="822" y="188" width="1" height="12" fill="#26a69a"/>
<rect x="819" y="193" width="7" height="7" fill="#26a69a"/>
<rect x="832" y="184" width="1" height="36" fill="#ef5350"/>
<rect x="829" y="212" width="7" height="8" fill="#ef5350"/>
<rect x="843" y="219" width="1" height="19" fill="#ef5350"/>
<rect x="840" y="235" width="7" height="3" fill="#ef5350"/>
<rect x="853" y="244" width="1" height="1" fill="#26a69a"/>
<rect x="850" y="244" width="7" height="1" fill="#26a69a"/>
<rect x="863" y="227" width="1" height="39" fill="#26a69a"/>
<rect x="860" y="259" width="7" height="1" fill="#26a69a"/>
<rect x="873" y="249" width="1" height="34" fill="#26a69a"/>
<rect x="870" y="268" width="7" height="15" fill="#26a69a"/>
<rect x="883" y="257" width="1" height="25" fill="#ef5350"/>
<rect x="880" y="270" width="7" height="6" fill="#ef5350"/>
<rect x="893" y="264" width="1" height="27" fill="#26a69a"/>
<rect x="890" y="273" width="7" height="18" fill="#26a69a"/>
<rect x="903" y="264" width="1" height="30" fill="#26a69a"/>
<rect x="900" y="268" width="7" height="26" fill="#26a69a"/>
<rect x="913" y="255" width="1" height="30" fill="#26a69a"/>
<rect x="910" y="264" width="7" height="21" fill="#26a69a"/>
<rect x="924" y="261" width="1" height="21" fill="#26a69a"/>
<rect x="921" y="265" width="7" height="17" fill="#26a69a"/>
<rect x="934" y="253" width="1" height="20" fill="#ef5350"/>
<rect x="931" y="253" width="7" height="10" fill="#ef5350"/>
<rect x="944" y="249" width="1" height="35" fill="#26a69a"/>
<rect x="941" y="269" width="7" height="15" fill="#26a69a"/>
<rect x="954" y="268" width="1" height="18" fill="#26a69a"/>
<rect x="951" y="279" width="7" height="7" fill="#26a69a"/>
<rect x="964" y="265" width="1" height="22" fill="#ef5350"/>
<rect x="961" y="279" width="7" height="5" fill="#ef5350"/>
<rect x="974" y="257" width="1" height="36" fill="#ef5350"/>
<rect x="971" y="257" width="7" height="18" fill="#ef5350"/>
<rect x="984" y="273" width="1" height="29" fill="#ef5350"/>
<rect x="981" y="297" width="7" height="5" fill="#ef5350"/>
<rect x="994" y="303" width="1" height="10" fill="#ef5350"/>
<rect x="991" y="305" width="7" height="8" fill="#ef5350"/>
<rect x="1005" y="305" width="1" height="18" fill="#26a69a"/>
<rect x="1002" y="322" width="7" height="1" fill="#26a69a"/>
<rect x="1015" y="294" width="1" height="37" fill="#ef5350"/>
<rect x="1012" y="314" width="7" height="17" fill="#ef5350"/>
<rect x="1025" y="303" width="1" height="30" fill="#ef5350"/>
<rect x="1022" y="323" width="7" height="10" fill="#ef5350"/>
<rect x="1035" y="332" width="1" height="8" fill="#ef5350"/>
<rect x="1032" y="332" width="7" height="7" fill="#ef5350"/>
<rect x="1045" y="322" width="1" height="23" fill="#26a69a"/>
<rect x="1042" y="325" width="7" height="20" fill="#26a69a"/>
<rect x="1055" y="315" width="1" height="31" fill="#ef5350"/>
<rect x="1052" y="315" width="7" height="15" fill="#ef5350"/>
<rect x="1065" y="318" width="1" height="36" fill="#26a69a"/>
<rect x="1062" y="335" width="7" height="10" fill="#26a69a"/>
<rect x="1075" y="332" width="1" height="31" fill="#ef5350"/>
<rect x="1072" y="335" width="7" height="28" fill="#ef5350"/>
<rect x="1086" y="372" width="1" height="2" fill="#ef5350"/>
<rect x="1083" y="372" width="7" height="2" fill="#ef5350"/>
<rect x="1096" y="340" width="1" height="37" fill="#ef5350"/>
<rect x="1093" y="354" width="7" height="14" fill="#ef5350"/>
<rect x="1106" y="340" width="1" height="39" fill="#26a69a"/>
<rect x="1103" y="344" width="7" height="31" fill="#26a69a"/>
<rect x="1116" y="339" width="1" height="41" fill="#ef5350"/>
<rect x="1113" y="357" width="7" height="23" fill="#ef5350"/>
<rect x="1126" y="376" width="1" height="15" fill="#ef5350"/>
<rect x="1123" y="387" width="7" height="2" fill="#ef5350"/>
</g>
<g fill="#33f533" stroke="none"><rect x="356.95" y="240.2" width="1.1" height="6.60"/><rect x="356.40" y="240.2" width="2.2" height="1.3"/><rect x="356.40" y="245.80" width="2.2" height="1"/></g>
<g fill="#f25555" stroke="none"><rect x="801.95" y="166.2" width="1.1" height="7.00"/><rect x="801.40" y="166.2" width="2.2" height="1.3"/><rect x="801.40" y="172.20" width="2.2" height="1"/></g>
<g shape-rendering="crispEdges">
<rect x="1242" y="49" width="1" height="451" fill="#d9dadb"/>
<rect x="8" y="470" width="1304" height="1" fill="#d9dadb"/>
<rect x="104" y="471" width="1" height="5" fill="#d9dadb"/>
<rect x="195" y="471" width="1" height="5" fill="#d9dadb"/>
<rect x="286" y="471" width="1" height="5" fill="#d9dadb"/>
<rect x="377" y="471" width="1" height="5" fill="#d9dadb"/>
<rect x="488" y="471" width="1" height="5" fill="#d9dadb"/>
<rect x="579" y="471" width="1" height="5" fill="#d9dadb"/>
<rect x="701" y="471" width="1" height="5" fill="#d9dadb"/>
<rect x="812" y="471" width="1" height="5" fill="#d9dadb"/>
<rect x="903" y="471" width="1" height="5" fill="#d9dadb"/>
<rect x="1015" y="471" width="1" height="5" fill="#d9dadb"/>
<rect x="1177" y="471" width="1" height="5" fill="#d9dadb"/>
<rect x="1243" y="71" width="5" height="1" fill="#d9dadb"/>
<rect x="1243" y="108" width="5" height="1" fill="#d9dadb"/>
<rect x="1243" y="147" width="5" height="1" fill="#d9dadb"/>
<rect x="1243" y="188" width="5" height="1" fill="#d9dadb"/>
<rect x="1243" y="231" width="5" height="1" fill="#d9dadb"/>
<rect x="1243" y="278" width="5" height="1" fill="#d9dadb"/>
<rect x="1243" y="328" width="5" height="1" fill="#d9dadb"/>
<rect x="1243" y="371" width="5" height="1" fill="#d9dadb"/>
<rect x="1243" y="405" width="5" height="1" fill="#d9dadb"/>
<rect x="1243" y="441" width="5" height="1" fill="#d9dadb"/>
<rect x="7" y="48" width="1306" height="1" fill="#000"/>
<rect x="7" y="500" width="1306" height="1" fill="#000"/>
<rect x="7" y="48" width="1" height="453" fill="#000"/>
<rect x="1312" y="48" width="1" height="453" fill="#000"/>
</g>
</svg>
<div class="mono" style="left:7px;top:10.7px"><span class="l">Published on TradingView.com, August 25, 2025 10:55:16 UTC</span></div>
<div class="mono" style="left:7px;top:27.8px"><span class="r">زادرپ هداد هيتآ</span><span class="l">, <span class="ws">D O:2382.00 H:2421.00 L:2370.00 C:2378.00</span></span></div>
<div class="mono" style="left:17px;top:62.3px;direction:rtl"><span class="r" style="top:-2px">زادرپ هداد هيتآ</span><span class="l">, 1D</span></div>
<div class="mono" style="left:17px;top:78.77px"><span class="r" style="transform:scale(0.72,1.4);transform-origin:0 60%">مجح</span></div>
<div class="mono" style="left:17px;top:101.75px"><span class="l">SuperTrend (10, 3)</span></div>
<div class="mono" style="left:17px;top:120.80px"><span class="l">MA (25, close, 0)</span></div>
<div class="mono" style="left:17px;top:139.85px"><span class="l">Ichimoku (9, 26, 52, 26)</span></div>
<div class="ax" style="left:1253px;top:65px">3800.00</div>
<div class="ax" style="left:1253px;top:102px">3600.00</div>
<div class="ax" style="left:1253px;top:141px">3400.00</div>
<div class="ax" style="left:1253px;top:182px">3200.00</div>
<div class="ax" style="left:1253px;top:225px">3000.00</div>
<div class="ax" style="left:1253px;top:272px">2800.00</div>
<div class="ax" style="left:1253px;top:399px">2320.00</div>
<div class="ax" style="left:1253px;top:435px">2200.00</div>
<div class="lb" style="top:318px;height:19px;background:#2196f3"><i style="top:9px"></i><div class="ax wl" style="left:12px;top:2.5px">2601.79</div></div>
<div class="lb" style="top:360px;height:19px;background:#2196f3"><i style="top:9px"></i><div class="ax wl" style="left:12px;top:2.5px">2421.10</div></div>
<div class="lb" style="top:379px;height:19px;background:#ef5350"><i style="top:9px"></i><div class="ax wl" style="left:12px;top:2.5px">2378.00</div></div>
<div class="lb" style="top:425px;height:19px;background:#2196f3"><i style="top:9px"></i><div class="ax wl" style="left:12px;top:2.5px">2222.12</div></div>
<div class="tl a" style="left:103.5px;top:479.4px">مارس</div>
<div class="tl" style="left:195.5px;top:479px">12</div>
<div class="tl a" style="left:285.5px;top:479.4px">آوریل</div>
<div class="tl" style="left:377.5px;top:479px">16</div>
<div class="tl a" style="left:487.5px;top:479.4px">می</div>
<div class="tl" style="left:579.5px;top:479px">14</div>
<div class="tl a" style="left:700.5px;top:479.4px">ژوئن</div>
<div class="tl m" style="left:812.5px;top:478.7px">Jul</div>
<div class="tl" style="left:903.5px;top:479px">16</div>
<div class="tl a" style="left:1014.5px;top:479.4px">آگوست</div>
<div class="tl m" style="left:1177.5px;top:478.7px">Sep</div>
<svg class="logo" width="25.1" height="18.67" viewBox="0 0 36 28" preserveAspectRatio="none"><path fill="#131722" d="M14 22H7V11H0V4h14v18zM28 22h-8l7.5-18h8L28 22z"/><circle fill="#131722" cx="20" cy="8" r="4"/></svg>
<div class="brand">TradingView</div>
</body></html>
